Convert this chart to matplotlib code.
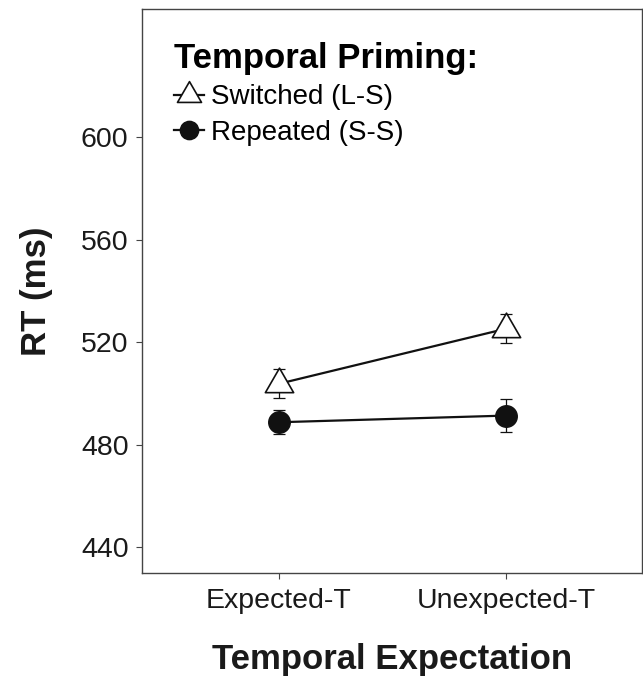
import numpy as np
import matplotlib
matplotlib.use("Agg")
import matplotlib.pyplot as plt
from matplotlib.path import Path

plt.rcParams['font.family'] = ['Liberation Sans', 'DejaVu Sans']

# data
conditions = ["Expected-T", "Unexpected-T"]
switched_rt = [503.8, 525.3]
switched_se = [5.6, 5.6]
repeated_rt = [488.8, 491.4]
repeated_se = [4.7, 6.4]
y_ticks = [440, 480, 520, 560, 600]

# equilateral triangle marker (centred on centroid)
tri = Path([(-1, -0.577), (1, -0.577), (0, 1.155), (-1, -0.577)],
           [Path.MOVETO, Path.LINETO, Path.LINETO, Path.CLOSEPOLY])

fig = plt.figure(figsize=(6.43, 6.78), dpi=100)
ax = fig.add_axes([0.2216, 0.1549, 0.7776, 0.8318])

x = np.arange(1, len(conditions) + 1)
ink = "#111111"

# switched (L-S)
ax.errorbar(x, switched_rt, yerr=switched_se, fmt="none", ecolor=ink,
            elinewidth=0.9, capsize=4.5, capthick=0.9, zorder=2)
ax.plot(x, switched_rt, color=ink, lw=1.6, marker=tri, ms=23.5,
        mfc="white", mec=ink, mew=1.2, zorder=3, label="Switched (L-S)")

# repeated (S-S)
ax.errorbar(x, repeated_rt, yerr=repeated_se, fmt="none", ecolor=ink,
            elinewidth=0.9, capsize=4.5, capthick=0.9, zorder=2)
ax.plot(x, repeated_rt, color=ink, lw=1.6, marker="o", ms=15.5,
        mfc=ink, mec=ink, zorder=3, label="Repeated (S-S)")

ax.set_xlim(0.4, 2.6)
ax.set_ylim(430, 650)
ax.set_xticks(x)
ax.set_xticklabels(conditions)
ax.set_yticks(y_ticks)

for s in ax.spines.values():
    s.set_color("#444444")
    s.set_linewidth(1.0)

ax.tick_params(axis="both", labelsize=20.5, colors="#444444", labelcolor="#1a1a1a",
               length=4, width=0.8)
ax.tick_params(axis="x", pad=7)
ax.tick_params(axis="y", pad=6)

ax.set_xlabel("Temporal Expectation", fontsize=25, fontweight="bold", labelpad=21,
              color="#1a1a1a")
ax.set_ylabel("RT (ms)", fontsize=25, fontweight="bold", labelpad=20, color="#1a1a1a")

leg = ax.legend(title="Temporal Priming:", loc="upper left",
                bbox_to_anchor=(0.04, 0.962), frameon=False, fontsize=20,
                title_fontproperties={"size": 25, "weight": "bold"},
                handlelength=1.1, handletextpad=0.25, labelspacing=0.35,
                borderaxespad=0, markerscale=0.85)
leg._legend_box.align = "left"
leg._legend_box.sep = 7

fig.savefig("out.png", dpi=100)
